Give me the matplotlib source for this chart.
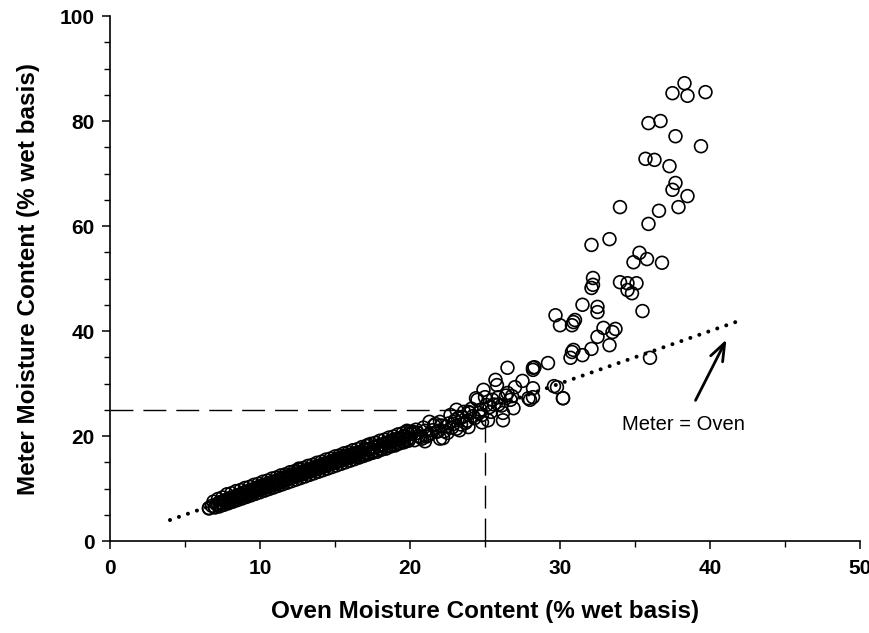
import matplotlib
matplotlib.use("Agg")
import matplotlib.pyplot as plt
from matplotlib.ticker import MultipleLocator

plt.rcParams['font.family'] = ['Liberation Sans', 'DejaVu Sans']

# Dense band (oven vs meter), x from ~6.5 to ~20 - middle rows
band_x = [6.6, 6.8, 7.0, 7.1, 7.2, 7.4, 7.5, 7.6, 7.8, 7.9, 8.0, 8.1, 8.2, 8.3, 8.4, 8.5,
          8.6, 8.7, 8.8, 8.9, 9.0, 9.1, 9.2, 9.3, 9.4, 9.5, 9.6, 9.7, 9.8, 9.9, 10.0, 10.1,
          10.2, 10.3, 10.4, 10.5, 10.6, 10.7, 10.8, 10.9, 11.0, 11.1, 11.2, 11.3, 11.4, 11.5,
          11.6, 11.7, 11.8, 11.9, 12.0, 12.1, 12.2, 12.3, 12.4, 12.5, 12.6, 12.7, 12.8, 12.9,
          13.0, 13.1, 13.2, 13.3, 13.4, 13.5, 13.6, 13.7, 13.8, 13.9, 14.0, 14.1, 14.2, 14.3,
          14.4, 14.5, 14.6, 14.7, 14.8, 14.9, 15.0, 15.1, 15.2, 15.3, 15.4, 15.5, 15.6, 15.7,
          15.8, 15.9, 16.0, 16.2, 16.3, 16.5, 16.6, 16.8, 16.9, 17.0, 17.2, 17.3, 17.5, 17.6,
          17.8, 17.9, 18.0, 18.2, 18.3, 18.5, 18.6, 18.8, 18.9, 19.0, 19.2, 19.3, 19.5, 19.6,
          19.8, 19.9, 20.0, 20.1,
          7.3, 7.7, 8.0, 8.4, 8.8, 9.2, 9.6, 10.0, 10.4, 10.8, 11.2, 11.6, 12.0, 12.4, 12.8,
          13.2, 13.6, 14.0, 14.4, 14.8, 15.2, 15.6, 16.0, 16.4, 16.8, 17.2, 17.6, 18.0, 18.4,
          18.8, 19.2, 19.6]
band_y = [6.3, 6.7, 6.5, 7.0, 6.8, 7.3, 7.0, 7.6, 7.3, 7.9, 7.6, 8.2, 7.8, 8.4, 8.0, 8.7,
          8.3, 8.9, 8.5, 9.2, 8.7, 9.4, 8.9, 9.6, 9.1, 9.8, 9.4, 10.0, 9.6, 10.3, 9.8, 10.5,
          10.0, 10.7, 10.2, 10.9, 10.4, 11.1, 10.6, 11.3, 10.8, 11.5, 11.0, 11.8, 11.2, 12.0,
          11.4, 12.2, 11.7, 12.4, 11.9, 12.6, 12.1, 12.8, 12.3, 13.2, 12.5, 13.0, 12.7, 13.3,
          12.9, 13.5, 13.1, 13.7, 13.3, 13.9, 13.5, 14.1, 13.7, 14.3, 13.9, 14.5, 14.1, 14.7,
          14.3, 14.9, 14.5, 15.1, 14.7, 15.3, 14.9, 15.6, 15.1, 15.8, 15.3, 16.0, 15.5, 16.2,
          15.7, 16.4, 15.9, 16.6, 16.1, 16.9, 16.3, 17.1, 16.6, 17.5, 16.8, 17.4, 17.1, 17.8,
          17.3, 18.1, 17.6, 18.4, 17.9, 18.7, 18.1, 19.0, 18.4, 19.3, 18.6, 19.6, 18.9, 20.0,
          19.3, 20.3, 19.6, 20.4,
          7.4, 7.8, 8.2, 8.5, 8.9, 9.4, 9.7, 10.2, 10.5, 11.0, 11.3, 11.8, 12.2, 12.5, 13.0,
          13.4, 13.8, 14.2, 14.6, 15.0, 15.4, 15.9, 16.3, 16.6, 17.0, 17.5, 17.9, 18.3, 18.7,
          19.2, 19.5, 19.9]

# Dense band - upper edge row
band_hi_x = [6.9, 7.2, 7.5, 7.8, 8.1, 8.4, 8.7, 9.0, 9.3, 9.6, 9.9, 10.2, 10.5, 10.8, 11.1,
             11.4, 11.7, 12.0, 12.3, 12.6, 12.9, 13.2, 13.5, 13.8, 14.1, 14.4, 14.7, 15.0,
             15.3, 15.6, 15.9, 16.2, 16.5, 16.8, 17.1, 17.4, 17.7, 18.0, 18.3, 18.6, 18.9,
             19.2, 19.5, 19.8, 12.6, 17.2, 19.8, 20.0]
band_hi_y = [7.5, 8.0, 8.3, 8.9, 9.1, 9.5, 9.7, 10.1, 10.3, 10.7, 10.9, 11.3, 11.5, 11.9, 12.1,
             12.5, 12.7, 13.1, 13.3, 13.8, 13.9, 14.3, 14.5, 14.9, 15.1, 15.5, 15.7, 16.1,
             16.3, 16.7, 16.9, 17.3, 17.5, 17.9, 18.1, 18.5, 18.7, 19.1, 19.3, 19.7, 19.9,
             20.3, 20.5, 20.8, 13.6, 18.3, 21.0, 20.8]

# Dense band - lower edge row
band_lo_x = [6.6, 7.0, 7.3, 7.6, 7.9, 8.2, 8.5, 8.8, 9.1, 9.4, 9.7, 10.0, 10.3, 10.6, 10.9,
             11.2, 11.5, 11.8, 12.1, 12.4, 12.7, 13.0, 13.3, 13.6, 13.9, 14.2, 14.5, 14.8,
             15.1, 15.4, 15.7, 16.0, 16.3, 16.6, 16.9, 17.2, 17.5, 17.8, 18.1, 18.4, 18.7,
             19.0, 19.3, 19.6, 19.9]
band_lo_y = [6.2, 6.4, 6.6, 6.9, 7.2, 7.5, 7.8, 8.1, 8.4, 8.7, 9.0, 9.3, 9.6, 9.9, 10.2,
             10.5, 10.8, 11.1, 11.4, 11.7, 12.0, 12.3, 12.6, 12.9, 13.2, 13.5, 13.8, 14.1,
             14.4, 14.7, 15.0, 15.3, 15.6, 15.9, 16.2, 16.5, 16.8, 17.0, 17.4, 17.6, 18.0,
             18.2, 18.6, 18.8, 19.1]

# Transition region, x ~20 to ~30
mid_x = [20.2, 20.3, 20.5, 20.7, 20.8, 21.0, 21.2, 21.3, 21.5, 21.8, 22.0, 22.2, 22.5, 22.7,
         23.1, 23.3, 23.5, 23.9, 23.9, 24.5, 24.7, 24.9, 25.0, 25.2, 25.5, 25.7, 25.8, 26.2,
         26.2, 26.5, 26.5, 26.7, 26.9, 27.0, 27.5, 27.9, 28.0, 28.2, 28.2, 28.2, 28.2, 28.3,
         29.2, 29.6, 30.2, 19.3, 21.6, 22.4, 23.0, 23.7, 24.2, 24.8, 25.3, 25.9, 22.9, 24.0,
         20.4, 20.6, 20.9, 21.1, 21.4, 21.7, 21.9, 22.1, 22.3, 22.6, 22.8, 23.2, 23.4, 23.6,
         23.8, 24.1, 24.3, 24.6, 24.8, 25.1, 25.4, 25.6, 25.9, 26.1, 26.4, 26.8, 24.4, 23.1,
         22.0, 21.0]
mid_y = [20.8, 19.2, 20.6, 19.8, 19.5, 21.0, 20.2, 22.7, 21.1, 20.8, 22.7, 19.6, 20.6, 24.0,
         25.0, 21.1, 23.6, 24.6, 21.7, 26.9, 25.0, 28.8, 27.4, 23.0, 26.9, 30.7, 29.7, 24.4,
         23.0, 33.0, 28.2, 26.9, 25.3, 29.3, 30.5, 27.2, 26.9, 33.0, 29.1, 27.4, 32.6, 33.1,
         33.9, 29.5, 27.2, 19.2, 22.0, 21.8, 23.0, 22.5, 23.8, 24.0, 25.5, 26.0, 22.3, 24.4,
         21.2, 20.0, 21.6, 19.9, 20.5, 22.3, 21.0, 22.0, 20.9, 22.4, 21.6, 23.4, 22.2, 24.6,
         22.9, 25.2, 23.4, 24.4, 22.6, 25.9, 24.6, 26.0, 27.4, 25.8, 27.7, 27.6, 27.2, 21.4,
         19.5, 19.0]

# Upper scatter, x ~29.5 to ~40
up_x = [29.7, 30.0, 30.8, 30.9, 31.0, 31.5, 32.5, 32.5, 35.5, 32.2, 32.1, 32.2, 34.0, 34.5,
        35.1, 34.5, 34.8, 32.9, 33.5, 33.7, 32.5, 33.3, 32.1, 30.8, 30.9, 31.5, 30.7, 36.0,
        29.8, 30.2, 38.3, 37.5, 38.5, 39.7, 35.9, 36.7, 37.7, 39.4, 35.7, 36.3, 37.3, 37.7,
        37.5, 38.5, 37.9, 36.6, 34.0, 35.9, 33.3, 32.1, 35.3, 34.9, 35.8, 36.8]
up_y = [43.0, 41.1, 41.1, 41.7, 42.1, 45.0, 44.6, 43.6, 43.8, 50.1, 48.2, 48.8, 49.3, 49.1,
        49.1, 47.8, 47.2, 40.6, 39.8, 40.4, 38.9, 37.3, 36.6, 36.0, 36.4, 35.4, 34.9, 34.9,
        29.3, 27.2, 87.2, 85.3, 84.8, 85.5, 79.6, 80.0, 77.1, 75.2, 72.8, 72.6, 71.4, 68.2,
        66.9, 65.7, 63.6, 62.9, 63.6, 60.4, 57.5, 56.4, 54.9, 53.1, 53.7, 53.0]

oven = band_x + band_hi_x + band_lo_x + mid_x + up_x
meter = band_y + band_hi_y + band_lo_y + mid_y + up_y

line_x = [4, 42]
line_y = [4, 42]
ref_val = 25

fig = plt.figure(figsize=(8.7, 6.33), dpi=100)
ax = fig.add_axes([0.1264, 0.1453, 0.8621, 0.8294])

ax.plot([0, ref_val], [ref_val, ref_val], color='black', lw=1.0,
        linestyle=(0, (16.5, 7.2)), zorder=1)
ax.plot([ref_val, ref_val], [0, ref_val], color='black', lw=1.0,
        linestyle=(0, (16.5, 7.2)), zorder=1)

ax.scatter(oven, meter, s=85, facecolors='none', edgecolors='black',
           linewidths=1.2, zorder=3)

ax.plot(line_x, line_y, color='black', lw=2.9, linestyle=(0, (0.01, 2.35)),
        dash_capstyle='round', zorder=2)

ax.annotate('Meter = Oven', xy=(41.1, 38.4), xytext=(38.2, 22.1),
            ha='center', va='center', fontsize=14.5,
            arrowprops=dict(arrowstyle='->,head_length=0.8,head_width=0.3',
                            color='black', lw=2.0, mutation_scale=16,
                            shrinkA=10, shrinkB=0))

ax.set_xlim(0, 50)
ax.set_ylim(0, 100)
ax.xaxis.set_major_locator(MultipleLocator(10))
ax.xaxis.set_minor_locator(MultipleLocator(5))
ax.yaxis.set_major_locator(MultipleLocator(20))
ax.yaxis.set_minor_locator(MultipleLocator(5))
for s in ['top', 'right']:
    ax.spines[s].set_visible(False)
for s in ['left', 'bottom']:
    ax.spines[s].set_linewidth(1.2)
ax.tick_params(which='major', direction='out', length=6, width=1.1, labelsize=15)
ax.tick_params(axis='x', which='major', pad=7)
ax.tick_params(axis='y', which='major', pad=5)
ax.tick_params(which='minor', direction='out', length=4, width=1.0)
for lab in ax.get_xticklabels() + ax.get_yticklabels():
    lab.set_fontweight('bold')

ax.set_xlabel('Oven Moisture Content (% wet basis)', fontsize=17.5, fontweight='bold', labelpad=16)
ax.set_ylabel('Meter Moisture Content (% wet basis)', fontsize=17.5, fontweight='bold', labelpad=14)

fig.savefig('out.png', dpi=100)
